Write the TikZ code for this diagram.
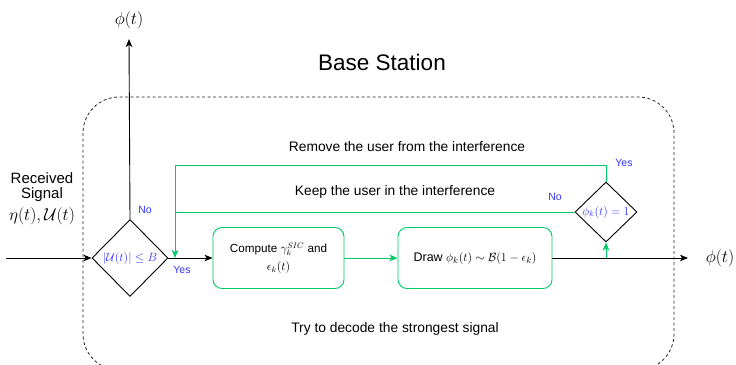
\documentclass[tikz,border=0pt]{standalone}
\usepackage{fontspec}
\setmainfont{Liberation Sans}
\usetikzlibrary{shapes.geometric,arrows.meta,calc}
\definecolor{flowgreen}{RGB}{0,204,102}
\definecolor{decblue}{RGB}{51,51,255}
\tikzset{
  every node/.style={font=\fontsize{13.8}{16}\selectfont},
  line/.style={line width=0.9pt,black},
  arr/.style={line, -{Stealth[length=8pt,width=6.5pt,inset=2pt]}},
  garr/.style={arr, draw=flowgreen},
  gline/.style={line, draw=flowgreen},
  decision/.style={diamond, draw, line width=0.9pt, inner sep=0pt,
    font=\fontsize{11.5}{13}\selectfont, text=decblue},
  procbox/.style={draw=flowgreen, line width=0.9pt, rounded corners=9pt,
    minimum width=131pt, minimum height=61pt, inner sep=0pt, align=center,
    font=\fontsize{11.7}{16}\selectfont},
  answer/.style={text=decblue, font=\fontsize{10.5}{12}\selectfont},
  mathlabel/.style={font=\fontsize{19}{21}\selectfont},
  station/.style={draw=black!85, line width=0.8pt, dash pattern=on 3pt off 2.5pt,
    rounded corners=36pt}
}
\begin{document}
\begin{tikzpicture}[x=1pt,y=-1pt]
  \useasboundingbox (0,0) rectangle (736,364);
  \clip (0,0) rectangle (736,364);

  % base station enclosure
  \draw[station] (83,97) rectangle (674,370);
  \node[font=\fontsize{22.5}{25}\selectfont] (title) at (382,62) {Base Station};

  % received signal
  \node[align=center, font=\fontsize{15}{14.5}\selectfont] (rx) at (42,187)
    {Received\\Signal};
  \node[font=\fontsize{18}{19}\selectfont] (rxmath) at (42,216.5)
    {$\eta(t),\mathcal{U}(t)$};
  \coordinate (in) at (6,258);

  % decisions
  \node[decision, minimum width=76pt, minimum height=77pt] (d1) at (130,258)
    {$|\mathcal{U}(t)|\leq B$};
  \node[decision, minimum width=62pt, minimum height=60pt] (d2) at (606,212)
    {$\phi_k(t)=1$};

  % processing boxes
  \node[procbox] (b1) at (278.5,258)
    {Compute $\gamma_k^{SIC}$ and\\[2pt]$\epsilon_k(t)$};
  \node[procbox, minimum width=154pt, font=\fontsize{12.5}{16}\selectfont] (b2) at (475,258)
    {Draw $\phi_k(t)\sim\mathcal{B}(1-\epsilon_k)$};

  % outputs
  \node[mathlabel] (phitop) at (129,20) {$\phi(t)$};
  \coordinate (uptip) at (129,39);
  \node[mathlabel] (phiright) at (720,258) {$\phi(t)$};
  \coordinate (righttip) at (688,258);

  % helper points on the main line
  \coordinate (join) at (175,258);
  \coordinate (split) at (606,258);

  % main flow
  \draw[arr] (in) -- (d1.west);
  \draw[arr] (d1.north) -- (uptip);
  \draw[arr] (d1.east) -- (b1.west);
  \draw[garr] (b1.east) -- (b2.west);
  \draw[arr] (b2.east) -- (righttip);
  \draw[garr] (split) -- (d2.south);

  % feedback loops
  \draw[garr] (d2.north) -- ++(0,-16) -| (join);
  \draw[gline] (d2.west) -- (d2.west -| join);

  % answers
  \node[answer] (no1) at (145,209.5) {No};
  \node[answer] (yes1) at (182,270) {Yes};
  \node[answer] (yes2) at (624,163) {Yes};
  \node[answer] (no2) at (555,197) {No};

  % descriptions
  \node (remove) at (407,147) {Remove the user from the interference};
  \node (keep) at (395,192) {Keep the user in the interference};
  \node (decode) at (395,329) {Try to decode the strongest signal};
\end{tikzpicture}
\end{document}
